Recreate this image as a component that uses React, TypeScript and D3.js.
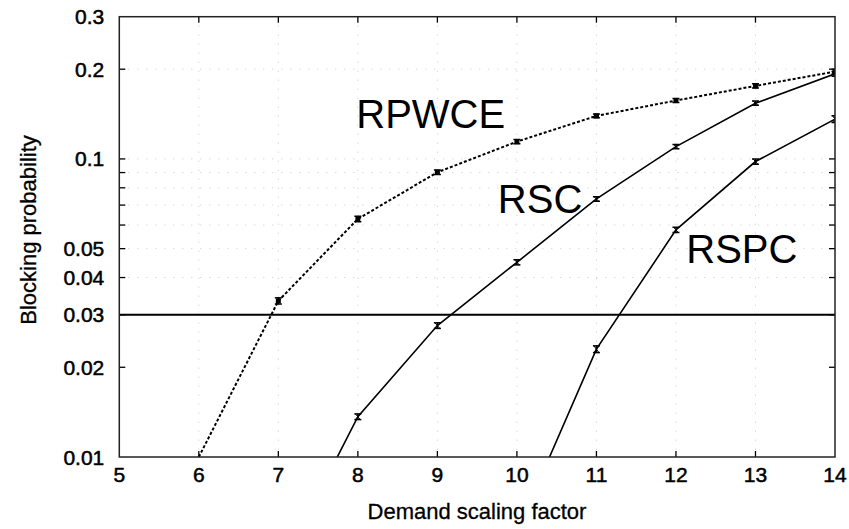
import React from "react";
import * as d3 from "d3";

const xTicks = [5, 6, 7, 8, 9, 10, 11, 12, 13, 14];
const yLabelTicks = [0.01, 0.02, 0.03, 0.04, 0.05, 0.1, 0.2, 0.3];
const yMinorTicks = [0.06, 0.07, 0.08, 0.09];
const gridY = [0.04, 0.05, 0.06, 0.07, 0.08, 0.09, 0.1, 0.2];

const rpwceX = [6, 7, 8, 9, 10, 11, 12, 13, 14];
const rpwceY = [0.01, 0.0334, 0.0629, 0.0902, 0.1143, 0.1394, 0.157, 0.1758, 0.1963];
const rpwceErr = [0, 0.0008, 0.0013, 0.0016, 0.0018, 0.002, 0.0025, 0.0028, 0.0035];

const rscX = [7, 8, 9, 10, 11, 12, 13, 14];
const rscY = [0.0041, 0.01365, 0.0276, 0.045, 0.0734, 0.11, 0.1538, 0.193];
const rscErr = [0, 0.0003, 0.0006, 0.0009, 0.0013, 0.0018, 0.0025, 0.0035];

const rspcX = [10, 11, 12, 13, 14];
const rspcY = [0.0056, 0.023, 0.0578, 0.098, 0.136];
const rspcErr = [0, 0.0006, 0.0012, 0.002, 0.0035];

const threshold = 0.03;

const seriesLabels = [
  { text: "RPWCE", x: 7.98, y: 0.127 },
  { text: "RSC", x: 9.76, y: 0.0659 },
  { text: "RSPC", x: 12.13, y: 0.0448 },
];

const FONT = "'Liberation Sans', Arial, Helvetica, sans-serif";

export default function App() {
  const W = 849, H = 529;
  const left = 119.3, right = 835, top = 16.7, bottom = 457;
  const x = d3.scaleLinear().domain([5, 14]).range([left, right]);
  const y = d3.scaleLog().domain([0.01, 0.3]).range([bottom, top]);

  const line = d3
    .line<[number, number]>()
    .x((d) => x(d[0]))
    .y((d) => y(d[1]));

  const mk = (xs: number[], ys: number[]) => xs.map((v, i) => [v, ys[i]] as [number, number]);

  const errBars = (xs: number[], ys: number[], es: number[], key: string, square: boolean) =>
    xs.map((xv, i) => {
      if (es[i] <= 0) return null;
      const cx = x(xv);
      const y1 = y(ys[i] - es[i]);
      const y2 = y(ys[i] + es[i]);
      return (
        <g key={key + i} stroke="#000" strokeWidth={1.5}>
          <line x1={cx} x2={cx} y1={y1} y2={y2} />
          <line x1={cx - 3.5} x2={cx + 3.5} y1={y1} y2={y1} />
          <line x1={cx - 3.5} x2={cx + 3.5} y1={y2} y2={y2} />
          {square ? (
            <rect x={cx - 2.5} y={y(ys[i]) - 2.5} width={5} height={5} fill="#000" stroke="none" />
          ) : (
            <path
              d={`M${cx - 2.5},${y1} L${cx + 2.5},${y2} M${cx + 2.5},${y1} L${cx - 2.5},${y2}`}
              strokeWidth={1}
            />
          )}
        </g>
      );
    });

  return (
    <svg
      width={W}
      height={H}
      style={{ position: "absolute", left: 0, top: 0, background: "#fff" }}
      fontFamily={FONT}
    >
      <defs>
        <clipPath id="plotclip">
          <rect x={left} y={top} width={right - left} height={bottom - top} />
        </clipPath>
      </defs>
      <rect x={0} y={0} width={W} height={H} fill="#fff" />

      {/* faint dotted grid */}
      <g stroke="#c8c8c8" strokeWidth={1} strokeDasharray="1,8">
        {xTicks.slice(1, -1).map((t) => (
          <line key={"gx" + t} x1={x(t)} x2={x(t)} y1={top} y2={bottom} />
        ))}
        {gridY.map((t) => (
          <line key={"gy" + t} x1={left} x2={right} y1={y(t)} y2={y(t)} />
        ))}
      </g>

      {/* ticks */}
      <g stroke="#000" strokeWidth={1.3}>
        {xTicks.slice(1, -1).map((t) => (
          <g key={"xt" + t}>
            <line x1={x(t)} x2={x(t)} y1={bottom} y2={bottom - 6} />
            <line x1={x(t)} x2={x(t)} y1={top} y2={top + 6} />
          </g>
        ))}
        {[...yLabelTicks.slice(1, -1), ...yMinorTicks].map((t) => (
          <g key={"yt" + t}>
            <line x1={left} x2={left + 6} y1={y(t)} y2={y(t)} />
            <line x1={right} x2={right - 6} y1={y(t)} y2={y(t)} />
          </g>
        ))}
      </g>

      {/* threshold */}
      <line x1={left} x2={right} y1={y(threshold)} y2={y(threshold)} stroke="#000" strokeWidth={2} />

      {/* series */}
      <g clipPath="url(#plotclip)" fill="none" stroke="#000">
        <path d={line(mk(rpwceX, rpwceY)) || ""} strokeWidth={2} strokeDasharray="3,2" />
        <path d={line(mk(rscX, rscY)) || ""} strokeWidth={1.6} />
        <path d={line(mk(rspcX, rspcY)) || ""} strokeWidth={1.6} />
      </g>
      <g clipPath="url(#plotclip)">
        {errBars(rpwceX, rpwceY, rpwceErr, "a", true)}
        {errBars(rscX, rscY, rscErr, "b", false)}
        {errBars(rspcX, rspcY, rspcErr, "c", false)}
      </g>

      {/* frame */}
      <rect x={left} y={top} width={right - left} height={bottom - top} fill="none" stroke="#222" strokeWidth={1.5} />

      {/* tick labels */}
      <g fontSize={21} fill="#000" stroke="#000" strokeWidth={0.5}>
        {yLabelTicks.map((t) => (
          <text key={"yl" + t} x={left - 15} y={y(t)} textAnchor="end" dominantBaseline="central">
            {String(t)}
          </text>
        ))}
        {xTicks.map((t) => (
          <text key={"xl" + t} x={x(t)} y={bottom + 17} textAnchor="middle" dominantBaseline="central">
            {t}
          </text>
        ))}
      </g>

      {/* axis titles */}
      <g stroke="#000" strokeWidth={0.3}>
        <text x={477} y={511} textAnchor="middle" dominantBaseline="central" fontSize={22}>
          Demand scaling factor
        </text>
        <text
          transform={`translate(28,${230}) rotate(-90)`}
          textAnchor="middle"
          dominantBaseline="central"
          fontSize={22}
        >
          Blocking probability
        </text>
      </g>

      {/* series labels */}
      <g fontSize={40}>
        {seriesLabels.map((l) => (
          <text key={l.text} x={x(l.x)} y={y(l.y)}>
            {l.text}
          </text>
        ))}
      </g>
    </svg>
  );
}
